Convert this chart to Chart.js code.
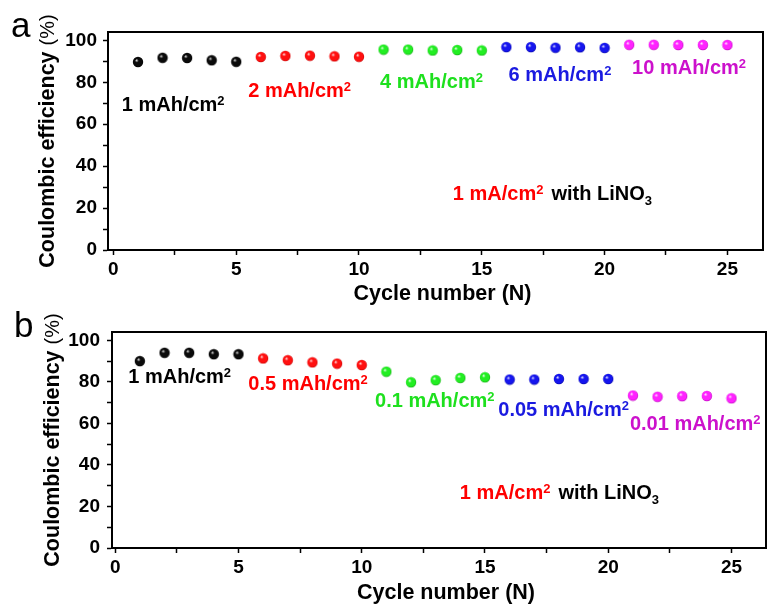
<!DOCTYPE html>
<html>
<head>
<meta charset="utf-8">
<script src="https://cdn.jsdelivr.net/npm/chart.js@4.4.1/dist/chart.umd.min.js"></script>
<style>
  html, body { margin: 0; padding: 0; background: #fff; }
  #wrap { position: relative; width: 772px; height: 608px; overflow: hidden; }
  .panel { position: absolute; left: 0; width: 772px; height: 308px; }
  #panelA { top: 0; }
  #panelB { top: 300px; }
</style>
</head>
<body>
<div id="wrap">
  <div class="panel" id="panelA"><canvas id="chartA" width="772" height="308"></canvas></div>
  <div class="panel" id="panelB"><canvas id="chartB" width="772" height="308"></canvas></div>
</div>
<script>
// Cycle index shared by both panels
const cycles = [1, 2, 3, 4, 5, 6, 7, 8, 9, 10, 11, 12, 13, 14, 15, 16, 17, 18, 19, 20, 21, 22, 23, 24, 25];

// Coulombic efficiency (%) - panel a, capacity stepped up every 5 cycles
const ceA = [89.7, 91.7, 91.6, 90.5, 89.8,
             92.1, 92.6, 92.7, 92.4, 92.2,
             95.6, 95.6, 95.2, 95.4, 95.2,
             96.8, 96.8, 96.5, 96.7, 96.4,
             97.9, 97.9, 97.8, 97.8, 97.8];

// Coulombic efficiency (%) - panel b, capacity stepped down every 5 cycles
const ceB = [90.0, 94.0, 94.0, 93.3, 93.3,
             91.3, 90.4, 89.4, 88.8, 88.1,
             84.9, 79.8, 80.8, 81.9, 82.2,
             81.1, 81.1, 81.4, 81.4, 81.4,
             73.4, 72.8, 73.1, 73.2, 72.1];

// Areal capacity of each 5-cycle block (mAh/cm2)
const capacityA = ['1', '2', '4', '6', '10'];
const capacityB = ['1', '0.5', '0.1', '0.05', '0.01'];

// Axis tick labels
const xTickLabels = [0, 5, 10, 15, 20, 25];
const yTickLabels = [0, 20, 40, 60, 80, 100];

const BLOCK = 5;
const FONT = "'Liberation Sans', Arial, sans-serif";

// block colours: [text, sphere body, sphere highlight, sphere rim]
const palette = [
  ['#000000', '#0a0a0a', '#d8d8d8', '#000000'],
  ['#ff0000', '#ff1010', '#ffe0e0', '#c00000'],
  ['#1ee01e', '#22ee22', '#e8ffe8', '#10a010'],
  ['#1a1ae0', '#1515ee', '#e0e0ff', '#0000a0'],
  ['#cc11cc', '#ff22ff', '#ffe8ff', '#b000b0']
];

// small shaded ball used as the marker
function sphere(body, hi, rim) {
  const c = document.createElement('canvas');
  c.width = 12; c.height = 12;
  const g = c.getContext('2d');
  const grad = g.createRadialGradient(4.4, 4.2, 0.2, 6, 6, 5.4);
  grad.addColorStop(0, hi);
  grad.addColorStop(0.32, body);
  grad.addColorStop(0.8, body);
  grad.addColorStop(1, rim);
  g.fillStyle = grad;
  g.beginPath();
  g.arc(6, 6, 5.2, 0, Math.PI * 2);
  g.fill();
  return c;
}

// draw a run of text pieces (with super/subscripts) from a left/baseline anchor
function drawRuns(ctx, x, y, runs) {
  let cx = x;
  runs.forEach(r => {
    ctx.font = r.font;
    ctx.fillStyle = r.color;
    ctx.fillText(r.t, cx, y + (r.dy || 0));
    cx += ctx.measureText(r.t).width + (r.gap || 0);
  });
}

function capacityRuns(value, color) {
  return [
    { t: value + ' mAh/cm', font: 'bold 20px ' + FONT, color },
    { t: '2', font: 'bold 13px ' + FONT, color, dy: -6 }
  ];
}

function rateRuns() {
  return [
    { t: '1 mA/cm', font: 'bold 20px ' + FONT, color: '#ff0000' },
    { t: '2', font: 'bold 13px ' + FONT, color: '#ff0000', dy: -6, gap: 8 },
    { t: 'with LiNO', font: 'bold 20px ' + FONT, color: '#000000' },
    { t: '3', font: 'bold 13px ' + FONT, color: '#000000', dy: 5 }
  ];
}

// frame, annotations, axis titles and panel letter
const decor = {
  id: 'decor',
  afterDraw(chart, args, o) {
    const { ctx, chartArea: a, scales: { x, y } } = chart;
    ctx.save();
    ctx.textAlign = 'left';
    ctx.textBaseline = 'alphabetic';

    // closed frame around the plot
    ctx.strokeStyle = '#000';
    ctx.lineWidth = 2;
    ctx.strokeRect(a.left, a.top, a.right - a.left, a.bottom - a.top);

    // capacity labels for each block
    o.caps.forEach((v, i) => {
      const p = o.capAt[i];
      drawRuns(ctx, x.getPixelForValue(p[0]), y.getPixelForValue(p[1]), capacityRuns(v, palette[i][0]));
    });
    // current density note
    drawRuns(ctx, x.getPixelForValue(o.rateAt[0]), y.getPixelForValue(o.rateAt[1]), rateRuns());

    // x-axis title
    ctx.font = 'bold 21.5px ' + FONT;
    ctx.fillStyle = '#000';
    ctx.textAlign = 'center';
    ctx.fillText('Cycle number (N)', (a.left + a.right) / 2 + 7, a.bottom + o.xTitleDrop);

    // y-axis title: bold words followed by a plain unit
    ctx.save();
    ctx.translate(o.yTitleX, (a.top + a.bottom) / 2);
    ctx.rotate(-Math.PI / 2);
    ctx.textAlign = 'left';
    const bold = 'bold 21.5px ' + FONT, plain = '20px ' + FONT;
    ctx.font = bold;
    const w1 = ctx.measureText('Coulombic efficiency ').width;
    ctx.font = plain;
    const w2 = ctx.measureText('(%)').width;
    let sx = -(w1 + w2) / 2;
    ctx.font = bold;
    ctx.fillText('Coulombic efficiency ', sx, 0);
    ctx.font = plain;
    ctx.fillText('(%)', sx + w1, 0);
    ctx.restore();

    // panel letter
    ctx.textAlign = 'left';
    ctx.font = '35px ' + FONT;
    ctx.fillText(o.letter, o.letterAt[0], o.letterAt[1]);
    ctx.restore();
  }
};

function buildChart(id, ce, caps, setup) {
  const datasets = caps.map((c, i) => ({
    label: c + ' mAh/cm2',
    data: cycles.slice(i * BLOCK, i * BLOCK + BLOCK).map((n, k) => ({ x: n, y: ce[i * BLOCK + k] })),
    pointStyle: sphere(palette[i][1], palette[i][2], palette[i][3]),
    pointRadius: 5,
    pointHoverRadius: 5,
    showLine: false
  }));

  return new Chart(document.getElementById(id), {
    type: 'scatter',
    data: { datasets },
    plugins: [decor],
    options: {
      responsive: false,
      animation: false,
      devicePixelRatio: 1,
      layout: { padding: { top: 32, right: setup.padRight, left: 0, bottom: 0 } },
      plugins: {
        legend: { display: false },
        tooltip: { enabled: false },
        decor: setup.decor
      },
      scales: {
        x: {
          type: 'linear',
          min: setup.xMin,
          max: setup.xMax,
          afterFit: s => { s.height = setup.xAxisHeight; s.paddingLeft = 0; s.paddingRight = 0; },
          border: { color: '#000', width: 2 },
          grid: { drawOnChartArea: false, drawTicks: true, tickLength: 5, tickWidth: 1.5, color: '#000' },
          ticks: {
            stepSize: 2.5,
            autoSkip: false,
            includeBounds: false,
            maxRotation: 0,
            padding: 3,
            color: '#000',
            font: { family: FONT, size: 19, weight: 'bold' },
            callback: v => (xTickLabels.includes(v) ? String(v) : '')
          }
        },
        y: {
          type: 'linear',
          min: 0,
          max: 104,
          afterFit: s => { s.width = setup.yAxisWidth; s.paddingTop = 0; s.paddingBottom = 0; },
          border: { color: '#000', width: 2 },
          grid: { drawOnChartArea: false, drawTicks: true, tickLength: 5, tickWidth: 1.5, color: '#000' },
          ticks: {
            stepSize: 10,
            autoSkip: false,
            includeBounds: false,
            padding: setup.yPad,
            color: '#000',
            font: { family: FONT, size: 19, weight: 'bold' },
            callback: v => (yTickLabels.includes(v) ? String(v) : '')
          }
        }
      }
    }
  });
}

buildChart('chartA', ceA, capacityA, {
  xMin: -0.22, xMax: 26.45, padRight: 9, yAxisWidth: 108, xAxisHeight: 58, yPad: 6,
  decor: {
    caps: capacityA,
    capAt: [[0.34, 66.2], [5.49, 73.1], [10.86, 77.1], [16.09, 80.7], [21.12, 83.8]],
    rateAt: [13.82, 23.8],
    xTitleDrop: 50,
    yTitleX: 54,
    letter: 'a',
    letterAt: [11, 37]
  }
});

buildChart('chartB', ceB, capacityB, {
  xMin: -0.13, xMax: 26.4, padRight: 5, yAxisWidth: 112, xAxisHeight: 60, yPad: 7,
  decor: {
    caps: capacityB,
    capAt: [[0.53, 79.4], [5.40, 76.0], [10.54, 68.1], [15.54, 63.5], [20.88, 56.8]],
    rateAt: [13.98, 23.7],
    xTitleDrop: 51,
    yTitleX: 59,
    letter: 'b',
    letterAt: [14, 37]
  }
});
</script>
</body>
</html>
